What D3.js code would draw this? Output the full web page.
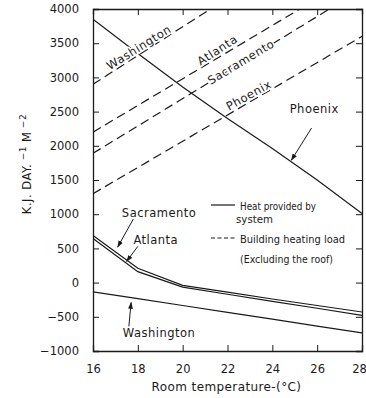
<!DOCTYPE html>
<html>
<head>
<meta charset="utf-8">
<script src="https://cdn.jsdelivr.net/npm/d3@7"></script>
<style>
  html, body { margin: 0; padding: 0; background: #fff; }
  svg { display: block; }
  text { font-family: "DejaVu Sans", "Liberation Sans", sans-serif; fill: #1a1a1a; }
</style>
</head>
<body>
<svg id="chart" width="366" height="398"></svg>
<script>
// ---- data ----
const temps = [16, 18, 20, 22, 24, 26, 28];
const phoenixHeat = [3850, 3350, 2860, 2400, 1960, 1500, 1010];
const sacramentoHeat = [690, 210, -40, -140, -240, -335, -430];
const atlantaHeat = [645, 160, -65, -170, -275, -375, -480];
const washingtonHeat = [-135, -235, -335, -435, -535, -635, -735];

const loadTemps = [16, 28];
const washingtonLoad = [2900, 5420];
const atlantaLoad = [2200, 4540];
const sacramentoLoad = [1890, 4290];
const phoenixLoad = [1300, 3600];

const xTicks = [16, 18, 20, 22, 24, 26, 28];
const yTicks = [-1000, -500, 0, 500, 1000, 1500, 2000, 2500, 3000, 3500, 4000];

// ---- layout ----
const svg = d3.select("#chart");
const mL = 93, mR = 362, mT = 9, mB = 351;
const x = d3.scaleLinear().domain([16, 28]).range([mL, mR]);
const y = d3.scaleLinear().domain([-1000, 4000]).range([mB, mT]);
const ink = "#1a1a1a";

const defs = svg.append("defs");
defs.append("clipPath").attr("id", "plotclip")
  .append("rect").attr("x", mL).attr("y", mT).attr("width", mR - mL).attr("height", mB - mT);
defs.append("marker").attr("id", "arrow").attr("viewBox", "0 0 10 10")
  .attr("refX", 9).attr("refY", 5).attr("markerWidth", 7).attr("markerHeight", 7)
  .attr("orient", "auto-start-reverse").attr("markerUnits", "userSpaceOnUse")
  .append("path").attr("d", "M0,1.5 L10,5 L0,8.5 Z").attr("fill", ink);

// ---- axes (frame with inward ticks) ----
const tickLen = 6;
const axL = svg.append("g").attr("transform", `translate(${mL},0)`)
  .call(d3.axisLeft(y).tickValues(yTicks).tickSize(-tickLen).tickPadding(14)
    .tickFormat(d => d < 0 ? "−" + Math.abs(d) : String(d)));
const axR = svg.append("g").attr("transform", `translate(${mR},0)`)
  .call(d3.axisRight(y).tickValues(yTicks).tickSize(-tickLen).tickFormat(""));
const axB = svg.append("g").attr("transform", `translate(0,${mB})`)
  .call(d3.axisBottom(x).tickValues(xTicks).tickSize(-tickLen).tickPadding(14));
const axT = svg.append("g").attr("transform", `translate(0,${mT})`)
  .call(d3.axisTop(x).tickValues(xTicks).tickSize(-tickLen).tickFormat(""));

[axL, axR, axB, axT].forEach(g => {
  g.select(".domain").attr("stroke", ink).attr("stroke-width", 1.3);
  g.selectAll(".tick line").attr("stroke", ink).attr("stroke-width", 1);
  g.selectAll(".tick text").attr("font-size", 11.5).attr("fill", ink)
    .attr("font-family", "DejaVu Sans, sans-serif");
});
// keep the last x label inside the page
axB.selectAll(".tick text").filter(d => d === 28).attr("dx", -3);

// ---- lines ----
const plot = svg.append("g").attr("clip-path", "url(#plotclip)");
const line = d3.line().x(d => x(d[0])).y(d => y(d[1]));

const heatSeries = [phoenixHeat, sacramentoHeat, atlantaHeat, washingtonHeat];
heatSeries.forEach(vals => {
  plot.append("path").datum(temps.map((t, i) => [t, vals[i]]))
    .attr("d", line).attr("fill", "none").attr("stroke", ink).attr("stroke-width", 1.2);
});

const loadSeries = [washingtonLoad, atlantaLoad, sacramentoLoad, phoenixLoad];
loadSeries.forEach(vals => {
  plot.append("path").datum(loadTemps.map((t, i) => [t, vals[i]]))
    .attr("d", line).attr("fill", "none").attr("stroke", ink).attr("stroke-width", 1.2)
    .attr("stroke-dasharray", "9,5");
});

// ---- in-plot labels ----
const lab = svg.append("g");
function rotLabel(text, cx, cy, ang) {
  lab.append("text").attr("transform", `translate(${cx},${cy}) rotate(${ang})`)
    .attr("text-anchor", "middle").attr("dominant-baseline", "central")
    .attr("font-size", 11.5).attr("letter-spacing", 0.6)
    .attr("stroke", "#fff").attr("stroke-width", 3).attr("paint-order", "stroke")
    .text(text);
}
rotLabel("Washington", x(18.05), y(3440), -32);
rotLabel("Atlanta", x(21.55), y(3400), -33);
rotLabel("Sacramento", x(22.6), y(3225), -31);
rotLabel("Phoenix", x(22.95), y(2740), -29);

function hLabel(text, cx, cy) {
  lab.append("text").attr("x", cx).attr("y", cy).attr("text-anchor", "middle")
    .attr("dominant-baseline", "central")
    .attr("font-size", 11.5).attr("letter-spacing", 0.5).text(text);
}
hLabel("Phoenix", x(25.87), y(2540));
hLabel("Sacramento", x(18.95), y(1020));
hLabel("Atlanta", x(18.8), y(620));
hLabel("Washington", x(18.95), y(-740));

function arrow(t1, v1, t2, v2) {
  lab.append("line").attr("x1", x(t1)).attr("y1", y(v1)).attr("x2", x(t2)).attr("y2", y(v2))
    .attr("stroke", ink).attr("stroke-width", 1).attr("marker-end", "url(#arrow)");
}
arrow(25.75, 2260, 24.85, 1790);   // Phoenix
arrow(17.8, 930, 17.1, 520);       // Sacramento
arrow(18.0, 530, 17.5, 310);       // Atlanta
arrow(17.6, -640, 17.7, -290);     // Washington

// ---- legend ----
const lg = svg.append("g");
const legFont = "'DejaVu Sans Condensed', 'Liberation Sans Narrow', sans-serif";
lg.append("line").attr("x1", 211).attr("x2", 235).attr("y1", 205).attr("y2", 205)
  .attr("stroke", ink).attr("stroke-width", 1.2);
lg.append("line").attr("x1", 211).attr("x2", 235).attr("y1", 238).attr("y2", 238)
  .attr("stroke", ink).attr("stroke-width", 1.2).attr("stroke-dasharray", "4,2.5");
[["Heat provided by", 240, 206, 76], ["system", 236, 219, 37],
 ["Building heating load", 240, 239, 105], ["(Excluding the roof)", 240, 259, 93]].forEach(([t, lx, ly, w]) => {
  lg.append("text").attr("x", lx).attr("y", ly).attr("font-size", 11)
    .attr("dominant-baseline", "central")
    .attr("font-family", legFont).attr("textLength", w).attr("lengthAdjust", "spacingAndGlyphs").text(t);
});

// ---- axis titles ----
svg.append("text").attr("x", (mL + mR) / 2 - 1).attr("y", 391).attr("text-anchor", "middle")
  .attr("font-size", 12).attr("letter-spacing", 0.4).text("Room temperature-(°C)");

const yt = svg.append("text").attr("transform", `translate(31,164) rotate(-90)`)
  .attr("text-anchor", "middle").attr("font-size", 11.5).attr("letter-spacing", 0.5);
yt.append("tspan").text("K.J. DAY.");
yt.append("tspan").attr("dy", -5).attr("font-size", 9).text(" −1");
yt.append("tspan").attr("dy", 5).text("  M");
yt.append("tspan").attr("dy", -5).attr("font-size", 9).text(" −2");
</script>
</body>
</html>
